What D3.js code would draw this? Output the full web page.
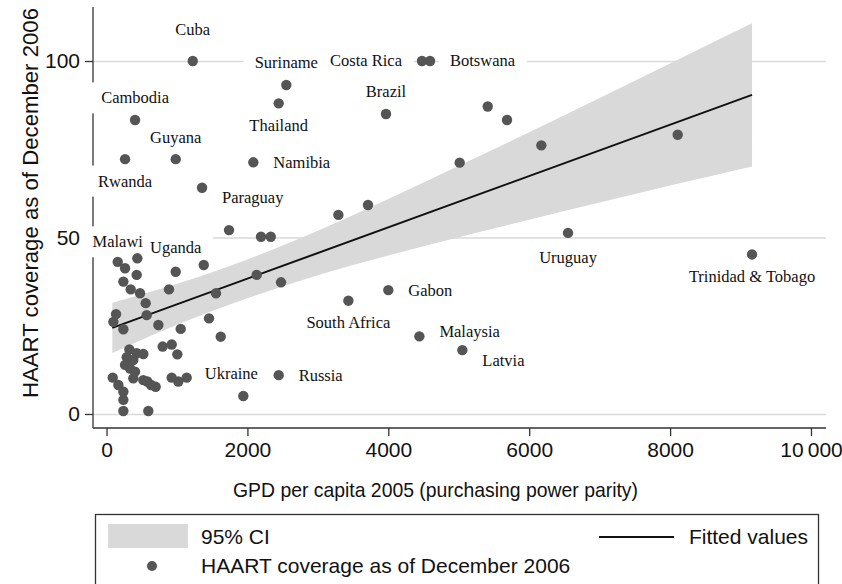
<!DOCTYPE html>
<html>
<head>
<meta charset="utf-8">
<script src="https://cdn.jsdelivr.net/npm/d3@7"></script>
<style>
  body { margin: 0; background: #fff; }
  svg { display: block; }
</style>
</head>
<body>
<script>
const width = 842;
const height = 584;
const margin = { left: 93, top: 7, right: 16 };
const plotBottom = 428;

// GDP per capita 2005 (PPP) and HAART coverage, labelled countries first
const country = ["Cuba", "Suriname", "Thailand", "Cambodia", "Guyana", "Rwanda", "Namibia",
  "Paraguay", "Costa Rica", "Botswana", "Brazil", "Uruguay", "Trinidad & Tobago", "Gabon",
  "South Africa", "Malaysia", "Latvia", "Russia", "Ukraine", "Malawi", "Uganda"];
const gdp = [1224, 2552, 2444, 405, 982, 263, 2084,
  1356, 4478, 4592, 3967, 6551, 9163, 4000,
  3433, 4441, 5051, 2444, 1942, 159, 982,
  // unlabelled
  5411, 5685, 6172, 5013, 8108, 3712, 3291, 1739, 2193, 2331,
  437, 1380, 263, 428, 239, 343, 476, 887, 556, 570,
  135, 97, 239, 736, 1053, 1455, 1554, 2132, 2477, 1621,
  797, 925, 1005, 324, 428, 522, 287, 380, 263, 334,
  405, 380, 522, 88, 168, 239, 239, 239, 593, 579,
  632, 698, 925, 1019, 1138];
const haart = [100, 93.2, 88.0, 83.3, 72.2, 72.2, 71.3,
  64.1, 100, 100, 85.0, 51.3, 45.2, 35.1,
  32.1, 22.0, 18.1, 11.0, 5.1, 43.1, 40.3,
  87.1, 83.3, 76.1, 71.2, 79.1, 59.2, 56.4, 52.1, 50.2, 50.2,
  44.1, 42.2, 41.3, 39.4, 37.5, 35.3, 34.2, 35.3, 31.4, 28.0,
  28.3, 26.1, 24.0, 25.2, 24.1, 27.1, 34.2, 39.4, 37.3, 21.9,
  19.1, 19.7, 16.9, 18.3, 17.2, 17.0, 16.1, 15.3, 13.9, 12.9,
  12.0, 10.1, 9.6, 10.3, 8.2, 6.3, 4.0, 0.85, 0.85, 9.2,
  8.2, 7.7, 10.3, 9.2, 10.3];

// fitted values and 95% CI
const fitX = [82, 9163];
const fitY = [24.4, 90.4];
const ciX = [82, 1000, 2000, 3000, 4000, 5000, 6000, 7000, 8000, 9163];
const ciLow = [17.3, 25.3, 32.8, 39.3, 44.9, 50.1, 55.0, 59.9, 64.7, 70.1];
const ciHigh = [31.5, 36.9, 43.8, 51.9, 60.9, 70.3, 79.8, 89.5, 99.3, 110.7];

const xTicks = [0, 2000, 4000, 6000, 8000, 10000];
const yTicks = [0, 50, 100];

// label clock positions (like Stata mlabvposition)
const labelClock = {
  "Cuba": 12, "Suriname": 12, "Thailand": 6, "Cambodia": 12, "Guyana": 12, "Rwanda": 6,
  "Namibia": 3, "Paraguay": 4, "Costa Rica": 9, "Botswana": 3, "Brazil": 12, "Uruguay": 6,
  "Trinidad & Tobago": 6, "Gabon": 3, "South Africa": 6, "Malaysia": 2, "Latvia": 4,
  "Russia": 3, "Ukraine": 11, "Malawi": 12, "Uganda": 12
};
const labelGap = { "Cuba": 31, "Uruguay": 25, "Uganda": 24, "Malawi": 20 };

const sans = "'Liberation Sans', Arial, Helvetica, sans-serif";
const serif = "'Liberation Serif', 'Times New Roman', serif";
const dotColor = "#555";
const bandColor = "#d9d9d9";
const gridColor = "#d9d9d9";
const axisColor = "#333";

const points = gdp.map((g, i) => ({ x: g, y: haart[i], name: country[i] || "" }));

const svg = d3.select("body").append("svg")
  .attr("width", width)
  .attr("height", height);

const x = d3.scaleLinear().domain([-192, 10213]).range([margin.left, width - margin.right]);
const y = d3.scaleLinear().domain([-3.97, 115.3]).range([plotBottom, margin.top]);
const plotW = width - margin.right - margin.left;

// gridlines
svg.append("g")
  .attr("transform", `translate(${margin.left},0)`)
  .call(d3.axisLeft(y).tickValues(yTicks).tickSize(-plotW).tickFormat(""))
  .call(g => g.select(".domain").remove())
  .call(g => g.selectAll("line").attr("stroke", gridColor).attr("stroke-width", 1.6));

// axes
const yAxis = svg.append("g")
  .attr("transform", `translate(${margin.left},0)`)
  .call(d3.axisLeft(y).tickValues(yTicks).tickSize(8).tickPadding(5).tickSizeOuter(0));
yAxis.select(".domain").attr("d", `M0,${margin.top}V${plotBottom}`);

const xAxis = svg.append("g")
  .attr("transform", `translate(0,${plotBottom})`)
  .call(d3.axisBottom(x).tickValues(xTicks).tickSize(8).tickPadding(6).tickSizeOuter(0)
    .tickFormat(d => d === 10000 ? "10\u2009000" : d));
xAxis.select(".domain").attr("d", `M${margin.left},0H${width - margin.right}`);

[xAxis, yAxis].forEach(a => {
  a.selectAll(".tick text")
    .attr("font-family", sans)
    .attr("font-size", 21)
    .attr("fill", "#111");
  a.selectAll(".domain, .tick line").attr("stroke", axisColor).attr("stroke-width", 1.3);
});

// axis titles
svg.append("text")
  .attr("x", 435.5)
  .attr("y", 497)
  .attr("text-anchor", "middle")
  .attr("font-family", sans)
  .attr("font-size", 21)
  .attr("textLength", 405)
  .attr("lengthAdjust", "spacingAndGlyphs")
  .attr("fill", "#111")
  .text("GPD per capita 2005  (purchasing power parity)");

svg.append("text")
  .attr("transform", "translate(38,203) rotate(-90)")
  .attr("text-anchor", "middle")
  .attr("font-family", sans)
  .attr("font-size", 22)
  .attr("textLength", 390)
  .attr("lengthAdjust", "spacingAndGlyphs")
  .attr("fill", "#111")
  .text("HAART coverage as of December 2006");

// layers
const boxLayer = svg.append("g");
const bandLayer = svg.append("g");
const dotLayer = svg.append("g");
const labelLayer = svg.append("g");

// CI band and fitted line
const ci = ciX.map((v, i) => ({ x: v, lo: ciLow[i], hi: ciHigh[i] }));
bandLayer.append("path")
  .datum(ci)
  .attr("d", d3.area().x(d => x(d.x)).y0(d => y(d.lo)).y1(d => y(d.hi)).curve(d3.curveMonotoneX))
  .attr("fill", bandColor);

bandLayer.append("path")
  .datum(fitX.map((v, i) => ({ x: v, y: fitY[i] })))
  .attr("d", d3.line().x(d => x(d.x)).y(d => y(d.y)))
  .attr("fill", "none")
  .attr("stroke", "#111")
  .attr("stroke-width", 2);

// points
dotLayer.selectAll("circle")
  .data(points)
  .join("circle")
  .attr("cx", d => x(d.x))
  .attr("cy", d => y(d.y))
  .attr("r", 5.2)
  .attr("fill", dotColor);

// labels with white boxes behind (they mask gridlines / axis as in the original)
const hGap = 20;
points.filter(d => d.name).forEach(d => {
  const cx = x(d.x), cy = y(d.y);
  const clock = labelClock[d.name];
  const vGap = labelGap[d.name] || 22;
  let tx = cx, ty = cy, anchor = "middle";
  if (clock === 12) { ty = cy - vGap; }
  else if (clock === 6) { ty = cy + vGap; }
  else if (clock === 3) { tx = cx + hGap; anchor = "start"; }
  else if (clock === 9) { tx = cx - hGap; anchor = "end"; }
  else if (clock === 2) { tx = cx + hGap; ty = cy - 5; anchor = "start"; }
  else if (clock === 4) { tx = cx + hGap; ty = cy + 10; anchor = "start"; }
  else if (clock === 11) { tx = cx - 12; ty = cy - vGap; }
  const t = labelLayer.append("text")
    .attr("x", tx)
    .attr("y", ty)
    .attr("dy", "0.33em")
    .attr("text-anchor", anchor)
    .attr("font-family", serif)
    .attr("font-size", 16.5)
    .attr("fill", "#111")
    .text(d.name);
  const bb = t.node().getBBox();
  boxLayer.append("rect")
    .attr("x", bb.x - 11)
    .attr("y", bb.y - 6)
    .attr("width", bb.width + 22)
    .attr("height", bb.height + 12)
    .attr("fill", "#fff");
});

// legend
const lg = svg.append("g");
lg.append("rect")
  .attr("x", 95.5).attr("y", 514.5)
  .attr("width", 723).attr("height", 90)
  .attr("fill", "#fff").attr("stroke", axisColor).attr("stroke-width", 1.3);
lg.append("rect")
  .attr("x", 108).attr("y", 524)
  .attr("width", 80).attr("height", 24)
  .attr("fill", bandColor);
lg.append("text")
  .attr("x", 201).attr("y", 537).attr("dy", "0.35em")
  .attr("font-family", sans).attr("font-size", 21).attr("fill", "#111")
  .text("95% CI");
lg.append("line")
  .attr("x1", 599).attr("x2", 674).attr("y1", 537).attr("y2", 537)
  .attr("stroke", "#111").attr("stroke-width", 2);
lg.append("text")
  .attr("x", 808).attr("y", 537).attr("dy", "0.35em")
  .attr("text-anchor", "end")
  .attr("font-family", sans).attr("font-size", 21).attr("fill", "#111")
  .text("Fitted values");
lg.append("circle")
  .attr("cx", 152).attr("cy", 566).attr("r", 5)
  .attr("fill", dotColor);
lg.append("text")
  .attr("x", 201).attr("y", 566).attr("dy", "0.35em")
  .attr("font-family", sans).attr("font-size", 21).attr("fill", "#111")
  .text("HAART coverage as of December 2006");
</script>
</body>
</html>
